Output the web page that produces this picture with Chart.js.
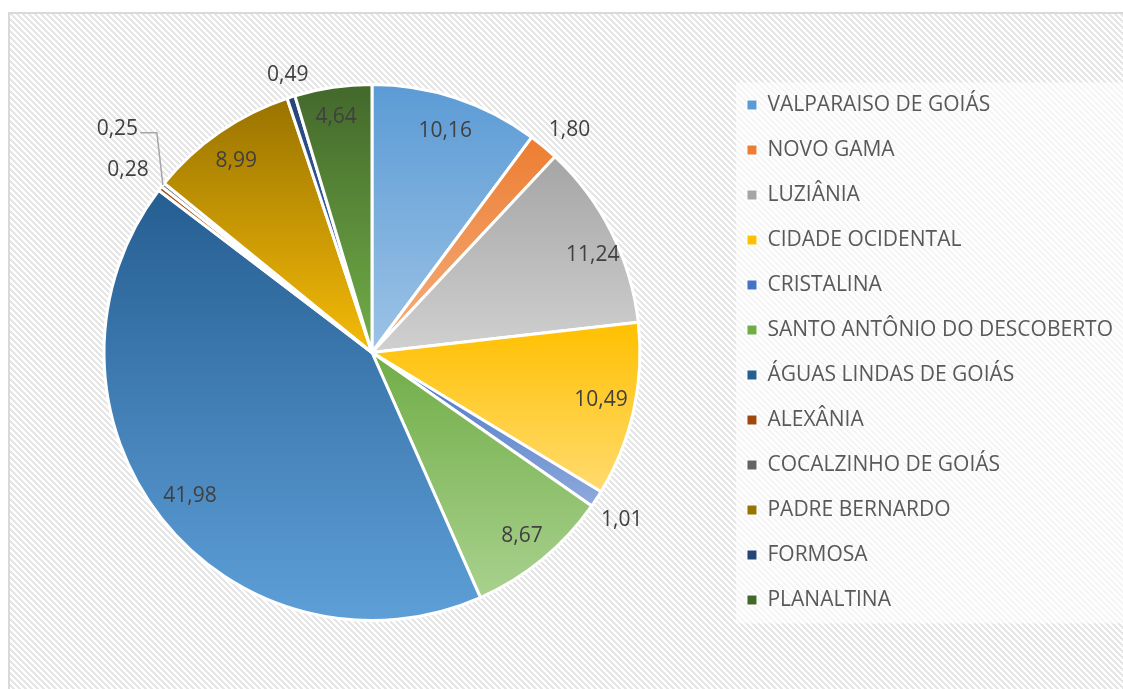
<!DOCTYPE html>
<html lang="pt-BR">
<head>
  <meta charset="UTF-8">
  <title>Municípios</title>
  <style>
    body {
      margin: 0;
      background: #fff;
      overflow: hidden;
    }
    .frame {
      position: absolute;
      left: 8px;
      top: 12px;
      width: 1200px;
      height: 800px;
      border: 2px solid #d9d9d9;
      background-color: #ffffff;
      background-image: linear-gradient(45deg, #e6e6e6 25%, transparent 25%, transparent 50%, #e6e6e6 50%, #e6e6e6 75%, transparent 75%);
      background-size: 6px 6px;
    }
    .wrap {
      position: absolute;
      left: 0;
      top: 0;
      width: 1123px;
      height: 689px;
    }
  </style>
  <script src="https://cdn.jsdelivr.net/npm/chart.js"></script>
</head>
<body>
  <div class="frame"></div>
  <div class="wrap">
    <canvas id="grafico" width="1123" height="689"></canvas>
  </div>

  <script>
    const municipios = ['VALPARAISO DE GOIÁS', 'NOVO GAMA', 'LUZIÂNIA', 'CIDADE OCIDENTAL', 'CRISTALINA',
      'SANTO ANTÔNIO DO DESCOBERTO', 'ÁGUAS LINDAS DE GOIÁS', 'ALEXÂNIA', 'COCALZINHO DE GOIÁS',
      'PADRE BERNARDO', 'FORMOSA', 'PLANALTINA'];
    const percentuais = [10.16, 1.80, 11.24, 10.49, 1.01, 8.67, 41.98, 0.28, 0.25, 8.99, 0.49, 4.64];

    // gradient colours: top of slice -> bottom of slice
    const corTopo = ['#5b9bd5', '#ed7d31', '#a5a5a5', '#ffc000', '#4472c4', '#70ad47',
      '#255e91', '#9e480e', '#636363', '#997300', '#264478', '#43682b'];
    const corBase = ['#9dc3e6', '#f4b183', '#d0d0d0', '#ffdb6e', '#8faadc', '#a9d18e',
      '#5e9fd8', '#ed7d31', '#a5a5a5', '#f5bb08', '#4472c4', '#72ae48'];

    // data label placement (fraction of radius, angle shift in degrees, leader line)
    const rotuloRaio = [0.87, 1.11, 0.90, 0.873, 1.123, 0.884, 0.865, 1.138, 1.265, 0.877, 1.082, 0.89];
    const rotuloDesvio = [0, 1.8, 3, -0.6, 0.8, 0.2, 0, -0.9, 2.6, -0.6, 0.7, -0.3];
    const rotuloGuia = [false, false, false, false, false, false, false, false, true, false, false, false];

    const RAIO = 268;

    Chart.defaults.font.family = '"Open Sans", sans-serif';

    function gradiente(context) {
      const chart = context.chart;
      const area = chart.chartArea;
      const i = context.dataIndex;
      if (!area || i === undefined) return corTopo[i] || '#999';
      const cx = (area.left + area.right) / 2;
      const cy = (area.top + area.bottom) / 2;
      const total = percentuais.reduce((a, b) => a + b, 0);
      let acc = 0;
      for (let k = 0; k < i; k++) acc += percentuais[k];
      const a0 = -Math.PI / 2 + acc / total * 2 * Math.PI;
      const a1 = a0 + percentuais[i] / total * 2 * Math.PI;
      const ys = [cy, cy + RAIO * Math.sin(a0), cy + RAIO * Math.sin(a1)];
      [-Math.PI / 2, Math.PI / 2, 3 * Math.PI / 2].forEach(t => {
        if (t > a0 && t < a1) ys.push(cy + RAIO * Math.sin(t));
      });
      const g = chart.ctx.createLinearGradient(0, Math.min(...ys), 0, Math.max(...ys));
      g.addColorStop(0, corTopo[i]);
      g.addColorStop(1, corBase[i]);
      return g;
    }

    // translucent white panel behind the legend
    const fundoLegenda = {
      id: 'fundoLegenda',
      beforeDraw(chart) {
        const lg = chart.legend;
        if (!lg) return;
        const ctx = chart.ctx;
        const meio = (lg.top + lg.bottom) / 2;
        ctx.save();
        ctx.fillStyle = 'rgba(255, 255, 255, 0.6)';
        ctx.fillRect(lg.left + 13, meio - 270, chart.width - lg.left, 541);
        ctx.restore();
      }
    };

    // data labels
    const rotulos = {
      id: 'rotulos',
      afterDatasetsDraw(chart) {
        const ctx = chart.ctx;
        const arcs = chart.getDatasetMeta(0).data;
        ctx.save();
        ctx.font = '21px "Open Sans"';
        ctx.fillStyle = '#404040';
        ctx.textAlign = 'center';
        ctx.textBaseline = 'middle';
        arcs.forEach((arc, i) => {
          const p = arc.getProps(['x', 'y', 'startAngle', 'endAngle', 'outerRadius'], true);
          const meio = (p.startAngle + p.endAngle) / 2;
          const ang = meio + rotuloDesvio[i] * Math.PI / 180;
          const r = p.outerRadius * rotuloRaio[i];
          const tx = p.x + Math.cos(ang) * r;
          const ty = p.y + Math.sin(ang) * r;
          const texto = percentuais[i].toFixed(2).replace('.', ',');
          if (rotuloGuia[i]) {
            const w = ctx.measureText(texto).width;
            const ex = p.x + Math.cos(meio) * p.outerRadius;
            const ey = p.y + Math.sin(meio) * p.outerRadius;
            ctx.strokeStyle = '#a6a6a6';
            ctx.lineWidth = 1.5;
            ctx.beginPath();
            ctx.moveTo(tx + w / 2 + 2, ty + 4);
            ctx.lineTo(ex - 6, ty + 4);
            ctx.lineTo(ex, ey);
            ctx.stroke();
          }
          ctx.fillText(texto, tx, ty);
        });
        ctx.restore();
      }
    };

    const grafico = new Chart(document.getElementById('grafico'), {
      type: 'pie',
      data: {
        labels: municipios,
        datasets: [{
          data: percentuais,
          backgroundColor: gradiente,
          borderColor: '#ffffff',
          borderWidth: 3
        }]
      },
      options: {
        responsive: false,
        devicePixelRatio: 1,
        animation: false,
        radius: RAIO,
        layout: {
          padding: { left: 21, right: 0, top: 41, bottom: 25 }
        },
        plugins: {
          tooltip: { enabled: false },
          legend: {
            position: 'right',
            align: 'center',
            labels: {
              boxWidth: 10,
              boxHeight: 10,
              padding: 24,
              color: '#595959',
              font: { size: 21 },
              generateLabels(chart) {
                const itens = Chart.overrides.doughnut.plugins.legend.labels.generateLabels(chart);
                return itens.map((it, i) => Object.assign(it, {
                  fillStyle: corTopo[i],
                  strokeStyle: '#ffffff',
                  lineWidth: 1
                }));
              }
            }
          }
        }
      },
      plugins: [fundoLegenda, rotulos]
    });
  </script>
</body>
</html>
